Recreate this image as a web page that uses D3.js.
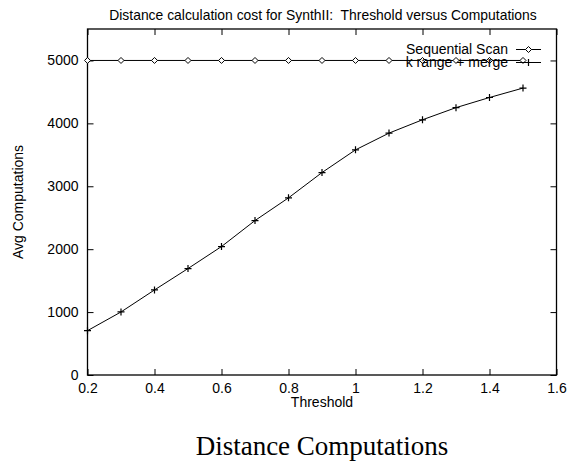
<!DOCTYPE html>
<html>
<head>
<meta charset="utf-8">
<script src="https://cdn.jsdelivr.net/npm/d3@7"></script>
<style>
  body { margin: 0; background: #fff; }
  svg { display: block; }
  text { font-family: "Liberation Sans", Arial, sans-serif; fill: #000; }
</style>
</head>
<body>
<div class="chart"></div>
<script>
// chart data
var thresholds = [0.2, 0.3, 0.4, 0.5, 0.6, 0.7, 0.8, 0.9, 1.0, 1.1, 1.2, 1.3, 1.4, 1.5];
var seqScan = [5000, 5000, 5000, 5000, 5000, 5000, 5000, 5000, 5000, 5000, 5000, 5000, 5000, 5000];
var kRangeMerge = [705, 1002, 1352, 1692, 2042, 2455, 2816, 3218, 3579, 3845, 4057, 4250, 4411, 4561];
var xTicks = [0.2, 0.4, 0.6, 0.8, 1.0, 1.2, 1.4, 1.6];
var yTicks = [0, 1000, 2000, 3000, 4000, 5000];
var seriesNames = ["Sequential Scan", "k range + merge"];

var svgWidth = 576;
var svgHeight = 468;

var margin = { top: 29, right: 19.5, bottom: 93, left: 87.5 };
var width = svgWidth - margin.left - margin.right;
var height = svgHeight - margin.top - margin.bottom;

var svg = d3.select(".chart")
  .append("svg")
  .attr("width", svgWidth)
  .attr("height", svgHeight);

var chartGroup = svg.append("g")
  .attr("transform", `translate(${margin.left}, ${margin.top})`);

var xScale = d3.scaleLinear().domain([0.2, 1.6]).range([0, width]);
var yScale = d3.scaleLinear().domain([0, 5500]).range([height, 0]);

var fmt = d => (d === 1 ? "1" : d3.format(".1f")(d));

// axes with inward ticks, mirrored on top / right
chartGroup.append("g")
  .attr("transform", `translate(0, ${height})`)
  .call(d3.axisBottom(xScale).tickValues(xTicks).tickSize(-6).tickPadding(8.5).tickFormat(fmt))
  .call(g => g.select(".domain").remove())
  .call(g => g.selectAll("text").style("font-size", "14px").attr("dy", "0.71em"));

chartGroup.append("g")
  .call(d3.axisTop(xScale).tickValues(xTicks).tickSize(-6).tickFormat(""))
  .call(g => g.select(".domain").remove());

chartGroup.append("g")
  .call(d3.axisLeft(yScale).tickValues(yTicks).tickSize(-6).tickPadding(9).tickFormat(d3.format("d")))
  .call(g => g.select(".domain").remove())
  .call(g => g.selectAll("text").style("font-size", "14px"));

chartGroup.append("g")
  .attr("transform", `translate(${width}, 0)`)
  .call(d3.axisRight(yScale).tickValues(yTicks).tickSize(-6).tickFormat(""))
  .call(g => g.select(".domain").remove());

chartGroup.selectAll(".tick line").attr("stroke", "#000");

// frame
chartGroup.append("rect")
  .attr("width", width)
  .attr("height", height)
  .attr("fill", "none")
  .attr("stroke", "#000")
  .attr("stroke-width", 1.3);

var line = d3.line()
  .x(d => xScale(d[0]))
  .y(d => yScale(d[1]));

var seqData = thresholds.map((t, i) => [t, seqScan[i]]);
var kData = thresholds.map((t, i) => [t, kRangeMerge[i]]);

function diamond(g, x, y) {
  g.append("path")
    .attr("d", `M${x - 3},${y} L${x},${y - 3} L${x + 3},${y} L${x},${y + 3} Z`)
    .attr("fill", "#fff")
    .attr("stroke", "#000")
    .attr("stroke-width", 1);
}

function plus(g, x, y) {
  g.append("path")
    .attr("d", `M${x - 3.5},${y} H${x + 3.5} M${x},${y - 3.5} V${y + 3.5}`)
    .attr("stroke", "#000")
    .attr("stroke-width", 1.2);
}

chartGroup.append("path")
  .datum(seqData)
  .attr("d", line)
  .attr("fill", "none")
  .attr("stroke", "#000")
  .attr("stroke-width", 1);

chartGroup.append("path")
  .datum(kData)
  .attr("d", line)
  .attr("fill", "none")
  .attr("stroke", "#000")
  .attr("stroke-width", 1);

seqData.forEach(d => diamond(chartGroup, xScale(d[0]), yScale(d[1])));
kData.forEach(d => plus(chartGroup, xScale(d[0]), yScale(d[1])));

// legend (top right, inside plot)
var legend = svg.append("g");
seriesNames.forEach(function (name, i) {
  var ly = 49.5 + i * 13;
  legend.append("text")
    .attr("x", 508)
    .attr("y", ly + 4.5)
    .attr("text-anchor", "end")
    .style("font-size", "14px")
    .text(name);
  legend.append("line")
    .attr("x1", 516).attr("x2", 541)
    .attr("y1", ly).attr("y2", ly)
    .attr("stroke", "#000");
  if (i === 0) diamond(legend, 528.5, ly);
  else plus(legend, 528.5, ly);
});

// titles
svg.append("text")
  .attr("x", 323)
  .attr("y", 20)
  .attr("text-anchor", "middle")
  .style("font-size", "13.9px")
  .style("white-space", "pre")
  .text("Distance calculation cost for SynthII:  Threshold versus Computations");

svg.append("text")
  .attr("x", margin.left + width / 2)
  .attr("y", 407)
  .attr("text-anchor", "middle")
  .style("font-size", "14px")
  .text("Threshold");

svg.append("text")
  .attr("transform", `translate(23, ${margin.top + height / 2}) rotate(-90)`)
  .attr("text-anchor", "middle")
  .style("font-size", "14px")
  .text("Avg Computations");

svg.append("text")
  .attr("x", margin.left + width / 2)
  .attr("y", 455)
  .attr("text-anchor", "middle")
  .style("font-family", "'Liberation Serif', 'DejaVu Serif', serif")
  .style("font-size", "27px")
  .text("Distance Computations");
</script>
</body>
</html>
